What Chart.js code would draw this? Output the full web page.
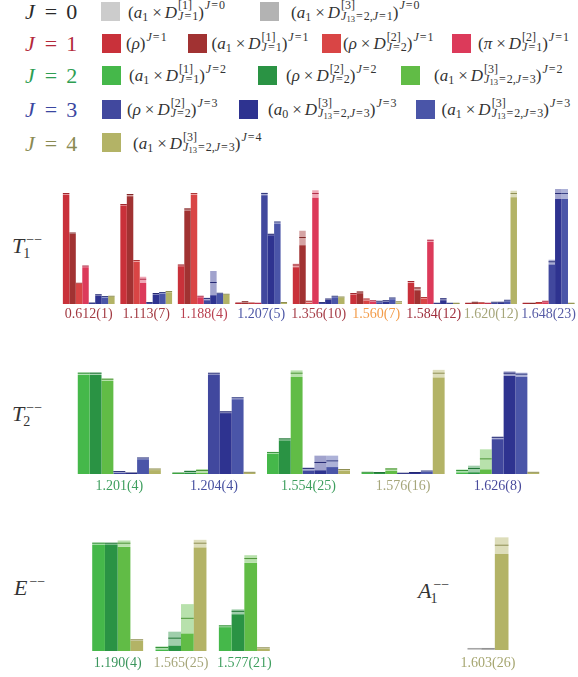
<!DOCTYPE html>
<html>
<head>
<meta charset="utf-8">
<script src="https://cdn.jsdelivr.net/npm/chart.js@4.4.1/dist/chart.umd.min.js"></script>
<style>
  body { margin: 0; background: #fff; width: 578px; height: 677px; position: relative; overflow: hidden;
         font-family: "Liberation Serif", serif; color: #333; }
  canvas { position: absolute; }
  .abs { position: absolute; white-space: nowrap; }
  .jl { font-size: 22px; line-height: 22px; }
  .jl .eq { margin: 0 9px 0 10px; }
  .sw { width: 19px; height: 19px; }
  .lt { font-size: 17px; line-height: 18px; }
  .ss { display: inline-flex; flex-direction: column; vertical-align: 8.3px; font-size: 12px; line-height: 10.3px;
        margin: -12px 0 -12px 1px; }
  .up { font-size: 12px; line-height: 0; vertical-align: 8.3px; margin-left: 1px; }
  .dn { font-size: 12px; line-height: 0; vertical-align: -2.5px; }
  .dd { font-size: 8.5px; line-height: 0; vertical-align: -2px; }
  .e  { margin: 0 1px; }
  .x  { margin: 0 3px 0 4px; }
  .pl { font-size: 22px; line-height: 22px; }
  .pl .ss { font-size: 14px; line-height: 13.8px; vertical-align: 8.8px; margin: -14px 0 -14px 2px; }
  .pl .ss span + span { margin-left: -3px; }
  .pl .up { font-size: 14px; vertical-align: 9px; margin-left: 2px; }
</style>
</head>
<body>
<div id="legend"></div>
<div id="labels"></div>
<script>
// Operatoren
const opKeys   = ['a1D1_0', 'a1D3_0', 'rho_1', 'a1D1_1', 'rhoD2_1', 'piD2_1', 'a1D1_2', 'rhoD2_2', 'a1D3_2', 'rhoD2_3', 'a0D3_3', 'a1D3_3', 'a1D3_4'];
const opJ      = [0, 0, 1, 1, 1, 1, 2, 2, 2, 3, 3, 3, 4];
const opColors = ['#cccccc', '#b3b3b3', '#c9313a', '#a13232', '#d94545', '#dc3a5a', '#45b84a', '#2a9344', '#61bc46', '#41489e', '#2e3390', '#4a55a8', '#b3b366'];
const opBase   = ['a1', 'a1', 'rho', 'a1', 'rho', 'pi', 'a1', 'rho', 'a1', 'rho', 'a0', 'a1', 'a1'];
const opDeriv  = ['1', '3', null, '1', '2', '2', '1', '2', '3', '2', '3', '3', '3'];
const opSub    = ['J=1', 'J13=2,J=1', null, 'J=1', 'J=2', 'J=1', 'J=1', 'J=2', 'J13=2,J=3', 'J=2', 'J13=2,J=3', 'J13=2,J=3', 'J13=2,J=3'];

const jNames  = ['0', '1', '2', '3', '4'];
const jColors = ['#2a2a2a', '#b3283a', '#2e9e52', '#3a46a0', '#8a8a52'];

// T1--
const t1Levels = ['0.612(1)', '1.113(7)', '1.188(4)', '1.207(5)', '1.356(10)', '1.560(7)', '1.584(12)', '1.620(12)', '1.648(23)'];
const t1LevelColors = ['#a33a42', '#a33a42', '#b94050', '#4d57a6', '#a63e48', '#f39c4a', '#a0303e', '#a6a67a', '#575ca6'];
const t1Ops = ['rho_1', 'a1D1_1', 'rhoD2_1', 'piD2_1', 'rhoD2_3', 'a0D3_3', 'a1D3_3', 'a1D3_4'];
const t1Values = [
    [1.00, 0.64, 0.185, 0.34, 0.005, 0.08, 0.064, 0.067],
    [0.90, 0.99, 0.39, 0.22, 0.01, 0.09, 0.10, 0.11],
    [0.35, 0.86, 1.00, 0.065, 0.045, 0.19, 0.094, 0.085],
    [0.005, 0.015, 0.005, 0.003, 1.00, 0.63, 0.74, 0.01],
    [0.35, 0.60, 0.02, 1.00, 0.01, 0.04, 0.065, 0.06],
    [0.09, 0.105, 0.04, 0.025, 0.02, 0.025, 0.05, 0.015],
    [0.20, 0.14, 0.055, 0.575, 0.003, 0.043, 0.003, 0.003],
    [0.003, 0.012, 0.006, 0.003, 0.012, 0.012, 0.03, 1.00],
    [0.003, 0.003, 0.01, 0.02, 0.38, 1.00, 1.00, 0.003]
];
const t1Errors = [
    [0.006, 0.004, 0.004, 0.006, 0.002, 0.004, 0.004, 0.004],
    [0.004, 0.01, 0.006, 0.028, 0.002, 0.004, 0.005, 0.004],
    [0.006, 0.01, 0.006, 0.003, 0.012, 0.11, 0.004, 0.003],
    [0.002, 0.01, 0.002, 0.002, 0.012, 0.006, 0.008, 0.002],
    [0.015, 0.065, 0.01, 0.035, 0.002, 0.003, 0.003, 0.003],
    [0.004, 0.008, 0.008, 0.005, 0.003, 0.006, 0.006, 0.003],
    [0.008, 0.014, 0.005, 0.01, 0.001, 0.008, 0.001, 0.001],
    [0.001, 0.003, 0.002, 0.001, 0.002, 0.002, 0.004, 0.03],
    [0.001, 0.001, 0.002, 0.004, 0.022, 0.045, 0.045, 0.001]
];

// T2--
const t2Levels = ['1.201(4)', '1.204(4)', '1.554(25)', '1.576(16)', '1.626(8)'];
const t2LevelColors = ['#3f9f5f', '#4650a0', '#3f9f5f', '#a6a67a', '#484a9c'];
const t2Ops = ['a1D1_2', 'rhoD2_2', 'a1D3_2', 'rhoD2_3', 'a0D3_3', 'a1D3_3', 'a1D3_4'];
const t2Values = [
    [1.00, 1.00, 0.94, 0.02, 0.005, 0.155, 0.045],
    [0.005, 0.02, 0.03, 1.00, 0.615, 0.755, 0.012],
    [0.21, 0.345, 1.00, 0.05, 0.11, 0.126, 0.04],
    [0.012, 0.01, 0.045, 0.003, 0.01, 0.025, 1.00],
    [0.03, 0.05, 0.146, 0.36, 1.00, 0.99, 0.012]
];
const t2Errors = [
    [0.012, 0.012, 0.013, 0.008, 0.002, 0.008, 0.006],
    [0.002, 0.015, 0.02, 0.007, 0.008, 0.01, 0.005],
    [0.008, 0.01, 0.033, 0.015, 0.073, 0.057, 0.005],
    [0.004, 0.003, 0.015, 0.001, 0.006, 0.005, 0.038],
    [0.015, 0.033, 0.10, 0.013, 0.023, 0.02, 0.004]
];

// E--
const eLevels = ['1.190(4)', '1.565(25)', '1.577(21)'];
const eLevelColors = ['#3a955c', '#a6a67a', '#3f9f5f'];
const eOps = ['a1D1_2', 'rhoD2_2', 'a1D3_2', 'a1D3_4'];
const eValues = [
    [1.00, 1.00, 1.00, 0.10],
    [0.028, 0.115, 0.30, 1.00],
    [0.23, 0.365, 0.857, 0.025]
];
const eErrors = [
    [0.01, 0.008, 0.03, 0.005],
    [0.015, 0.065, 0.137, 0.036],
    [0.008, 0.023, 0.036, 0.006]
];

// A1--
const a1Levels = ['1.603(26)'];
const a1LevelColors = ['#a6a670'];
const a1Ops = ['a1D1_0', 'a1D3_0', 'a1D3_4'];
const a1Values = [[0.01, 0.01, 1.00]];
const a1Errors = [[0.003, 0.004, 0.08]];

// Layout der Legende (Pixel)
const legendRowY  = [11.2, 43, 75, 109, 142.5];
const legendSwX   = [[101, 260], [102, 188, 322, 452], [102, 258, 401], [102, 239, 416], [102]];
const legendTxtX  = [[128, 291], [126, 211.5, 343, 478], [129, 286, 434], [127, 268, 441.6], [133]];

// --- Hilfsfunktionen ---
function rgba(hex, a) {
    const n = parseInt(hex.slice(1), 16);
    return `rgba(${n >> 16},${(n >> 8) & 255},${n & 255},${a})`;
}
function darker(hex, f) {
    const n = parseInt(hex.slice(1), 16);
    return `rgb(${Math.round((n >> 16) * f)},${Math.round(((n >> 8) & 255) * f)},${Math.round((n & 255) * f)})`;
}
function mathSub(s) {
    // 'J13=2,J=3' -> J_{13}=2,J=3  (erst '=', dann J, sonst trifft es die Attribute)
    return s.replace(/=/g, '<span class="e">=</span>')
            .replace(/J(13)?/g, (m, d) => '<i>J</i>' + (d ? `<span class="dd">${d}</span>` : ''));
}
function baseHtml(b) {
    if (b === 'rho') return '<i>ρ</i>';
    if (b === 'pi') return '<i>π</i>';
    return `<i>a</i><span class="dn">${b[1]}</span>`;
}
function opHtml(i) {
    let h = '(' + baseHtml(opBase[i]);
    if (opDeriv[i]) {
        h += `<span class="x">×</span><i>D</i><span class="ss"><span>[${opDeriv[i]}]</span><span>${mathSub(opSub[i])}</span></span>`;
    }
    h += `)<span class="up">${mathSub('J=' + opJ[i])}</span>`;
    return h;
}

// --- Legende ---
const legend = document.getElementById('legend');
let html = '';
jNames.forEach((jn, r) => {
    const cy = legendRowY[r];
    html += `<div class="abs jl" style="left:25px;top:${cy - 10}px;color:${jColors[r]}"><i>J</i><span class="eq">=</span>${jn}</div>`;
    const idx = opJ.map((j, i) => j === r ? i : -1).filter(i => i >= 0);
    idx.forEach((i, c) => {
        html += `<div class="abs sw" style="left:${legendSwX[r][c]}px;top:${cy - 9.5}px;background:${opColors[i]}"></div>`;
        html += `<div class="abs lt" style="left:${legendTxtX[r][c]}px;top:${cy - 7.6}px">${opHtml(i)}</div>`;
    });
});
legend.innerHTML = html;

// --- Panel-Beschriftungen ---
document.getElementById('labels').innerHTML =
    '<div class="abs pl" style="left:12px;top:235px"><i>T</i><span class="ss"><span>−−</span><span>1</span></span></div>' +
    '<div class="abs pl" style="left:12px;top:402.6px"><i>T</i><span class="ss"><span>−−</span><span>2</span></span></div>' +
    '<div class="abs pl" style="left:14px;top:576.6px"><i>E</i><span class="up">−−</span></div>' +
    '<div class="abs pl" style="left:418px;top:580px"><i>A</i><span class="ss"><span>−−</span><span>1</span></span></div>';

// --- Diagramme ---
function buildDatasets(ops, values, errors) {
    const ds = [];
    ops.forEach((key, k) => {
        const c = opColors[opKeys.indexOf(key)];
        const v = values.map(r => r[k]);
        const e = errors.map(r => r[k]);
        ds.push({ label: key, stack: key, order: 2, backgroundColor: c, minBarLength: 1,
                  data: v.map((x, i) => [0, Math.max(0, x - e[i])]) });
        ds.push({ label: key + ' err', stack: key, order: 1, backgroundColor: rgba(c, 0.45),
                  data: v.map((x, i) => [Math.max(0, x - e[i]), x + e[i]]) });
        ds.push({ label: key + ' val', stack: key, order: 0, backgroundColor: darker(c, 0.8), minBarLength: 1,
                  data: v.map(x => [x, x]) });
    });
    return ds;
}

function makePanel(levels, levelColors, ops, values, errors, box) {
    const axisH = 30;
    const cv = document.createElement('canvas');
    cv.width = box.width;
    cv.height = box.areaH + axisH;
    cv.style.left = box.left + 'px';
    cv.style.top = box.top + 'px';
    document.body.appendChild(cv);
    return new Chart(cv.getContext('2d'), {
        type: 'bar',
        data: { labels: levels, datasets: buildDatasets(ops, values, errors) },
        options: {
            responsive: false,
            animation: false,
            layout: { padding: 0 },
            plugins: { legend: { display: false }, tooltip: { enabled: false } },
            datasets: { bar: { categoryPercentage: box.cat, barPercentage: 1, borderWidth: 0 } },
            scales: {
                x: {
                    grid: { display: false, drawTicks: false },
                    border: { display: false },
                    ticks: {
                        autoSkip: false, maxRotation: 0, padding: box.pad,
                        font: { family: 'Liberation Serif', size: 14 },
                        color: c => levelColors[c.index]
                    },
                    afterFit: s => { s.height = axisH; }
                },
                y: { display: false, stacked: false, min: 0, max: box.areaH / box.unit }
            }
        }
    });
}

makePanel(t1Levels, t1LevelColors, t1Ops, t1Values, t1Errors, { left: 60, width: 518, top: 188, areaH: 116, unit: 110, cat: 0.9, pad: 2 });
makePanel(t2Levels, t2LevelColors, t2Ops, t2Values, t2Errors, { left: 72, width: 473, top: 367, areaH: 107, unit: 100.3, cat: 0.878, pad: 4 });
makePanel(eLevels, eLevelColors, eOps, eValues, eErrors, { left: 86, width: 190, top: 536, areaH: 115, unit: 107.3, cat: 0.804, pad: 4 });
makePanel(a1Levels, a1LevelColors, a1Ops, a1Values, a1Errors, { left: 438, width: 100, top: 535, areaH: 115, unit: 104.3, cat: 0.41, pad: 5 });
</script>
</body>
</html>
